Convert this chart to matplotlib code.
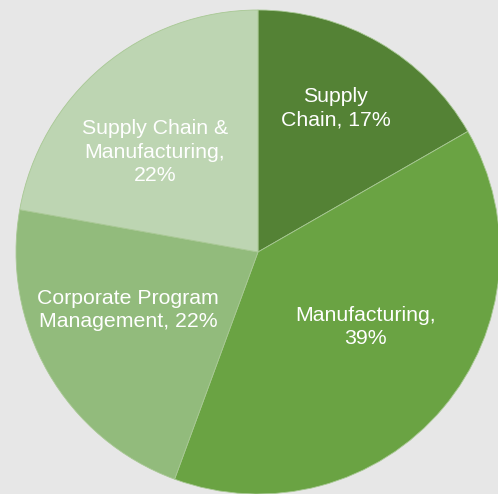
import matplotlib
matplotlib.use('Agg')
import matplotlib.pyplot as plt

# slice data (clockwise from 12 o'clock)
categories = ['Supply\nChain', 'Manufacturing,\n', 'Corporate Program\nManagement', 'Supply Chain &\nManufacturing,\n']
shares = [16.7, 38.9, 22.2, 22.2]
colors = ['#548235', '#6aa343', '#92bb7c', '#bdd5b2']

# where each label sits (data units, pie radius = 1)
label_pos = [(0.322, 0.595), (0.446, -0.31), (-0.537, -0.24), (-0.426, 0.413)]

plt.rcParams['font.family'] = ['Liberation Sans', 'DejaVu Sans']

fig = plt.figure(figsize=(4.98, 4.94), dpi=100, facecolor='#e7e7e7')
ax = fig.add_axes([0, 0, 1, 1])
ax.set_facecolor('#e7e7e7')

wedges, _ = ax.pie(shares, colors=colors, startangle=90, counterclock=False,
                   radius=1, wedgeprops=dict(edgecolor='#a8c894', linewidth=0.6))

for cat, val, (x, y) in zip(categories, shares, label_pos):
    if cat.endswith('\n'):
        txt = f'{cat}{round(val)}%'
    else:
        txt = f'{cat}, {round(val)}%'
    ax.text(x, y, txt, ha='center', va='center', color='white', fontsize=15.3, linespacing=1.3)

ax.set_aspect('equal')
ax.set_xlim(-258 / 242, 240 / 242)
ax.set_ylim(-242 / 242, 252 / 242)
ax.axis('off')

fig.savefig('out.png', dpi=100, facecolor=fig.get_facecolor())
